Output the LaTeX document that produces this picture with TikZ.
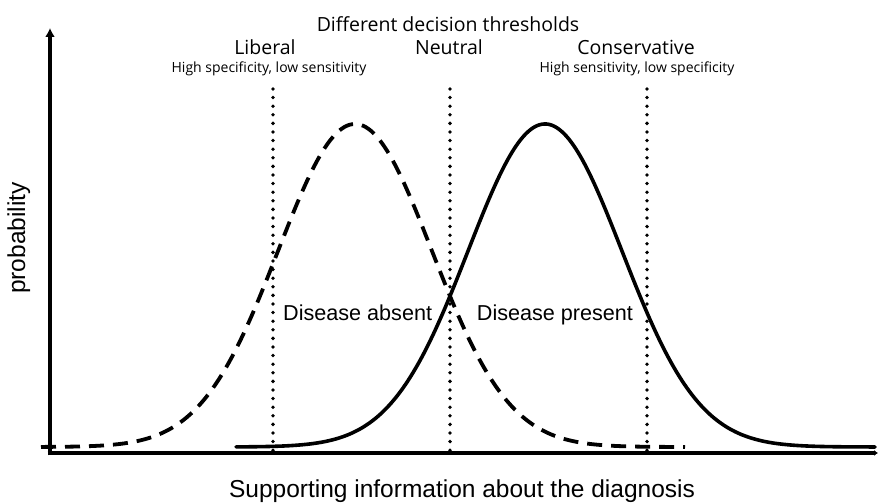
\documentclass[tikz,border=0pt]{standalone}
\usepackage{fontspec}
\usepackage{tikz}
\usetikzlibrary{arrows.meta}
\newfontfamily\arialfont{Liberation Sans}
\newfontfamily\frutfont{Open Sans}

\begin{document}
\begin{tikzpicture}
    [line cap=round,line join=round,x=1pt,y=1pt,
     axisline/.style={line width=4.8pt,line cap=butt},
     threshold/.style={line width=3.8pt,dash pattern=on 0pt off 8.6pt},
     absentcurve/.style={line width=3.8pt,line cap=butt,dash pattern=on 15pt off 9pt},
     presentcurve/.style={line width=3.6pt},
     biglabel/.style={font=\frutfont\fontsize{19.5}{22}\selectfont,anchor=base,inner sep=0pt},
     smalllabel/.style={font=\frutfont\fontsize{14}{16}\selectfont,anchor=base,inner sep=0pt},
     arlabel/.style={font=\arialfont\fontsize{21.6}{24}\selectfont,anchor=base,inner sep=0pt}]
\useasboundingbox (0,0) rectangle (879,503);
%axes
\coordinate (origin) at (50,50);
\coordinate (ytop) at (50,475);
\coordinate (xend) at (878,50);
\draw[axisline,-{Latex[length=9pt,width=10pt]}] (50,47.6) -- (ytop);
\draw[axisline,-{Latex[length=4pt,width=6pt]}] (47.6,50) -- (xend);

%the two distributions
\draw[absentcurve,smooth,samples=120,domain=41:685]
        plot(\x,{56+323*exp(-0.5*((\x-355)/77)^2)});
\draw[presentcurve,smooth,samples=120,domain=236:875]
        plot(\x,{56+323*exp(-0.5*((\x-545)/77)^2)});

%thresholds
\foreach \name/\xpos in {lib/273,neu/450,con/647}{
  \coordinate (\name top) at (\xpos,414);
  \coordinate (\name bot) at (\xpos,50);
  \draw[threshold] (\name top) -- (\name bot);
}

%texts
\node[biglabel] (title) at (448,471) {Different decision thresholds};
\node[biglabel] (liberal) at (265,448) {Liberal};
\node[biglabel] (neutral) at (449,448) {Neutral};
\node[biglabel] (conservative) at (636,448) {Conservative};
\node[smalllabel] (libnote) at (269,430) {High specificity, low sensitivity};
\node[smalllabel] (connote) at (637,430) {High sensitivity, low specificity};
\node[arlabel,anchor=base west] (absent) at (283,182) {Disease absent};
\node[arlabel] (present) at (555,182) {Disease present};
\node[arlabel,font=\arialfont\fontsize{24.5}{27}\selectfont,rotate=90] (ylabel) at (25,265) {probability};
\node[arlabel,font=\arialfont\fontsize{24.5}{27}\selectfont] (xlabel) at (462,5) {Supporting information about the diagnosis};
\end{tikzpicture}
\end{document}
